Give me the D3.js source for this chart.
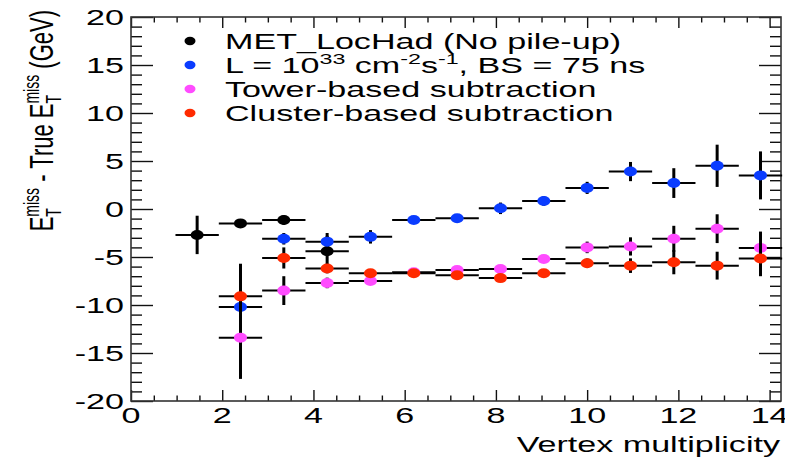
<!DOCTYPE html>
<html>
<head>
<meta charset="utf-8">
<script src="https://cdn.jsdelivr.net/npm/d3@7"></script>
<style>
  html, body { margin: 0; padding: 0; background: #fff; }
  svg text { font-family: "Liberation Sans", Arial, Helvetica, sans-serif; fill: #000; white-space: pre; }
</style>
</head>
<body>
<svg id="chart" width="785" height="461"></svg>
<script>
// Bin centres in vertex multiplicity and half-width of each bin
const binCenters = [1.45, 2.40, 3.35, 4.30, 5.25, 6.20, 7.15, 8.10, 9.05, 10.00, 10.95, 11.90, 12.85, 13.80];
const binHalfWidth = 0.475;

// MET_LocHad, no pile-up (bins 1-4)
const noPileupValues = [-2.7, -1.5, -1.15, -4.4];
const noPileupErrors = [2.0, 0.3, 0.5, 1.9];

// L = 1e33, BS = 75 ns (bins 2-14)
const pileupValues = [-10.2, -3.1, -3.4, -2.9, -1.15, -0.97, 0.07, 0.83, 2.2, 3.9, 2.7, 4.5, 3.5];
const pileupErrors = [1.2, 0.6, 0.6, 0.7, 0.3, 0.4, 0.6, 0.5, 0.63, 1.0, 1.55, 2.2, 2.5];

// Tower-based subtraction (bins 2-14)
const towerValues = [-13.4, -8.5, -7.7, -7.5, -6.6, -6.35, -6.25, -5.2, -4.0, -3.9, -3.1, -2.05, -4.05];
const towerErrors = [4.3, 1.5, 0.55, 0.4, 0.3, 0.3, 0.35, 0.4, 0.6, 0.95, 1.35, 1.5, 1.7];

// Cluster-based subtraction (bins 2-14)
const clusterValues = [-9.1, -5.1, -6.2, -6.7, -6.7, -6.9, -7.2, -6.7, -5.65, -5.9, -5.55, -5.9, -5.15];
const clusterErrors = [3.4, 1.1, 0.5, 0.4, 0.3, 0.3, 0.3, 0.4, 0.5, 0.76, 1.25, 1.45, 1.85];

const xMajorTicks = [0, 2, 4, 6, 8, 10, 12, 14];
const yMajorTicks = [-20, -15, -10, -5, 0, 5, 10, 15, 20];

const series = [
  { values: noPileupValues, errors: noPileupErrors, firstBin: 0, color: "#000000" },
  { values: pileupValues,   errors: pileupErrors,   firstBin: 1, color: "#0a3cff" },
  { values: towerValues,    errors: towerErrors,    firstBin: 1, color: "#ff4cff" },
  { values: clusterValues,  errors: clusterErrors,  firstBin: 1, color: "#ff2a00" }
];

const legendEntries = [
  { color: "#000000", segs: [{ t: "MET_LocHad (No pile-up)" }] },
  { color: "#0a3cff", segs: [{ t: "L = 10" }, { t: "33", size: 15, dy: -9 }, { t: " cm" },
                             { t: "-2", size: 15, dy: -9 }, { t: "s" }, { t: "-1", size: 15, dy: -9 },
                             { t: ", BS = 75 ns" }] },
  { color: "#ff4cff", segs: [{ t: "Tower-based subtraction" }] },
  { color: "#ff2a00", segs: [{ t: "Cluster-based subtraction" }] }
];

// Text is drawn horizontally widened
const SX = 1.55;
const FS = 22;

const svg = d3.select("#chart");
const frame = { left: 131, right: 781, top: 17, bottom: 401 };

const x = d3.scaleLinear().domain([0, 14.25]).range([frame.left, frame.right]);
const y = d3.scaleLinear().domain([-20, 20]).range([frame.bottom, frame.top]);

const xMinor = d3.range(0, 14.01, 0.5).filter(v => !xMajorTicks.includes(v));
const yMinor = d3.range(-20, 20.01, 1).filter(v => !yMajorTicks.includes(v));

function tickAxis(axis, tx, ty) {
  const g = svg.append("g").attr("transform", `translate(${tx},${ty})`).call(axis);
  g.select(".domain").remove();
  g.selectAll(".tick line").attr("stroke", "#111").attr("stroke-width", 1.4);
  g.selectAll(".tick text").remove();
}

// x ticks: bottom pointing up, top mirrored pointing down
tickAxis(d3.axisTop(x).tickValues(xMajorTicks).tickSize(11), 0, frame.bottom);
tickAxis(d3.axisTop(x).tickValues(xMinor).tickSize(5.5), 0, frame.bottom);
tickAxis(d3.axisBottom(x).tickValues(xMajorTicks).tickSize(11), 0, frame.top);
tickAxis(d3.axisBottom(x).tickValues(xMinor).tickSize(5.5), 0, frame.top);
// y ticks: left pointing right, right mirrored pointing left
tickAxis(d3.axisRight(y).tickValues(yMajorTicks).tickSize(22), frame.left, 0);
tickAxis(d3.axisRight(y).tickValues(yMinor).tickSize(11), frame.left, 0);
tickAxis(d3.axisLeft(y).tickValues(yMajorTicks).tickSize(22), frame.right, 0);
tickAxis(d3.axisLeft(y).tickValues(yMinor).tickSize(11), frame.right, 0);

svg.append("rect")
  .attr("x", frame.left).attr("y", frame.top)
  .attr("width", frame.right - frame.left).attr("height", frame.bottom - frame.top)
  .attr("fill", "none").attr("stroke", "#333").attr("stroke-width", 1.6);

// Tick labels
svg.append("g").selectAll("text").data(xMajorTicks).join("text")
  .attr("transform", d => `translate(${x(d)},423) scale(${SX},1)`)
  .attr("text-anchor", "middle").attr("font-size", FS)
  .text(d => d);

svg.append("g").selectAll("text").data(yMajorTicks).join("text")
  .attr("transform", d => `translate(124,${y(d)}) scale(${SX},1)`)
  .attr("text-anchor", "end").attr("dy", "0.36em").attr("font-size", FS)
  .text(d => d);

// Text made of segments (superscripts, stacked sub/superscripts)
function rich(parent, segs, { tx, ty, anchor = "start", rotate = 0, size = FS }) {
  const g = parent.append("g")
    .attr("transform", `translate(${tx},${ty}) scale(${SX},1)` + (rotate ? ` rotate(${rotate})` : ""));
  let cx = 0, prevStart = 0, prevW = 0;
  const placed = [];
  segs.forEach(s => {
    const t = g.append("text").attr("font-size", s.size || size).attr("y", s.dy || 0).text(s.t);
    const w = t.node().getComputedTextLength();
    let px;
    if (s.stack) { px = prevStart; cx = prevStart + Math.max(prevW, w); }
    else { px = cx; prevStart = cx; prevW = w; cx += w; }
    placed.push([t, px]);
  });
  const off = anchor === "end" ? -cx : anchor === "middle" ? -cx / 2 : 0;
  placed.forEach(([t, px]) => t.attr("x", px + off));
  return g;
}

// Axis titles
rich(svg, [{ t: "Vertex multiplicity" }], { tx: 780, ty: 452, anchor: "end" });

rich(svg, [
  { t: "E" }, { t: "miss", size: 14, dy: -9 }, { t: "T", size: 14, dy: 5, stack: true },
  { t: " - True E" }, { t: "miss", size: 14, dy: -9 }, { t: "T", size: 14, dy: 5, stack: true },
  { t: " (GeV)" }
], { tx: 53, ty: 10, anchor: "end", rotate: -90 });

// Data: error bars then markers, series by series
const plot = svg.append("g");
series.forEach(s => {
  const pts = s.values.map((v, i) => ({ cx: binCenters[s.firstBin + i], v, e: s.errors[i] }));
  const g = plot.append("g");
  g.selectAll("line.h").data(pts).join("line")
    .attr("x1", d => x(d.cx - binHalfWidth)).attr("x2", d => x(d.cx + binHalfWidth))
    .attr("y1", d => y(d.v)).attr("y2", d => y(d.v))
    .attr("stroke", "#000").attr("stroke-width", 2);
  g.selectAll("line.v").data(pts).join("line")
    .attr("x1", d => x(d.cx)).attr("x2", d => x(d.cx))
    .attr("y1", d => y(d.v - d.e)).attr("y2", d => y(d.v + d.e))
    .attr("stroke", "#000").attr("stroke-width", 3);
  g.selectAll("ellipse").data(pts).join("ellipse")
    .attr("cx", d => x(d.cx)).attr("cy", d => y(d.v))
    .attr("rx", 6.5).attr("ry", 5)
    .attr("fill", s.color);
});

// Legend
const legend = svg.append("g");
legendEntries.forEach((e, i) => {
  const cy = 41 + i * 24;
  legend.append("ellipse").attr("cx", 190).attr("cy", cy).attr("rx", 5.5).attr("ry", 4.2).attr("fill", e.color);
  rich(legend, e.segs, { tx: 225, ty: cy + 7.5 });
});
</script>
</body>
</html>
